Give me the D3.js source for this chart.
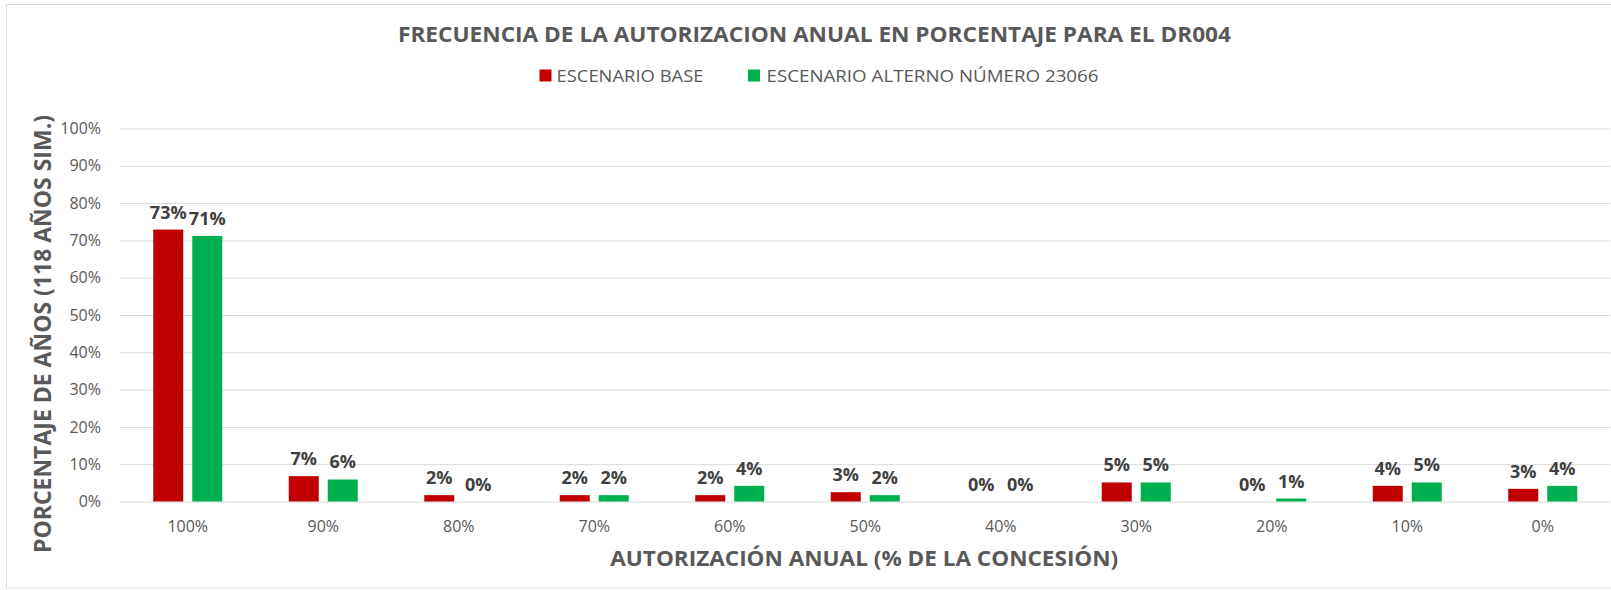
<!DOCTYPE html>
<html>
<head>
<meta charset="utf-8">
<script src="https://cdn.jsdelivr.net/npm/d3@7"></script>
<style>
  html, body { margin: 0; padding: 0; background: #ffffff; }
  svg { display: block; }
</style>
</head>
<body>
<svg id="chart" width="1611" height="590"></svg>
<script>
// ---- data ----
const categories = ["100%", "90%", "80%", "70%", "60%", "50%", "40%", "30%", "20%", "10%", "0%"];
const seriesNames = ["ESCENARIO BASE", "ESCENARIO ALTERNO NÚMERO 23066"];
const seriesColors = ["#C00000", "#00B050"];
const baseValues = [72.9, 6.8, 1.7, 1.7, 1.7, 2.5, 0, 5.1, 0, 4.2, 3.4];
const altValues  = [71.2, 5.9, 0, 1.7, 4.2, 1.7, 0, 5.1, 0.8, 5.1, 4.2];
const yTicks = [0, 10, 20, 30, 40, 50, 60, 70, 80, 90, 100];
const chartTitle = "FRECUENCIA DE LA AUTORIZACION ANUAL EN PORCENTAJE PARA EL DR004";
const xTitle = "AUTORIZACIÓN ANUAL (% DE LA CONCESIÓN)";
const yTitle = "PORCENTAJE DE AÑOS (118 AÑOS SIM.)";

const seriesValues = [baseValues, altValues];
const rows = categories.map((c, i) => ({
  cat: c,
  vals: seriesValues.map((arr, s) => ({ s, v: arr[i] }))
}));

// ---- layout ----
const svg = d3.select("#chart");
const FONT = "'Open Sans', 'DejaVu Sans', sans-serif";
const plotLeft = 120, plotRight = 1610.5, plotTop = 128.5, plotBottom = 501.5;

// outer chart border
svg.append("rect")
  .attr("x", 6.5).attr("y", 4.5)
  .attr("width", 1620).attr("height", 583.5)
  .attr("fill", "#ffffff").attr("stroke", "#d9d9d9").attr("stroke-width", 1);

const x = d3.scaleBand().domain(categories).range([plotLeft, plotRight]).paddingInner(0).paddingOuter(0);
const x1 = d3.scaleBand().domain([0, 1]).range([-34.5, 34.5]).paddingInner(0.2308).paddingOuter(0);
const y = d3.scaleLinear().domain([0, 100]).range([plotBottom, plotTop]);

// y axis with gridlines
const yAxis = svg.append("g")
  .attr("transform", `translate(${plotLeft},0)`)
  .call(d3.axisLeft(y).tickValues(yTicks).tickSize(-(plotRight - plotLeft)).tickPadding(19).tickFormat(d => d + "%"));
yAxis.select(".domain").remove();
yAxis.selectAll(".tick line").attr("stroke", "#d9d9d9").attr("stroke-width", 1);
yAxis.selectAll(".tick text")
  .attr("font-family", FONT).attr("font-size", 16).attr("fill", "#595959");

// x axis
const xAxis = svg.append("g")
  .attr("transform", `translate(0,${plotBottom})`)
  .call(d3.axisBottom(x).tickSize(0).tickPadding(19));
xAxis.select(".domain").remove();
xAxis.selectAll(".tick text")
  .attr("font-family", FONT).attr("font-size", 16).attr("fill", "#595959");

// bars
const groups = svg.append("g").selectAll("g.cat")
  .data(rows).join("g")
  .attr("class", "cat")
  .attr("transform", d => `translate(${x(d.cat) + x.bandwidth() / 2},0)`);

groups.selectAll("rect")
  .data(d => d.vals).join("rect")
  .attr("x", d => x1(d.s))
  .attr("width", x1.bandwidth())
  .attr("y", d => y(d.v))
  .attr("height", d => plotBottom - y(d.v))
  .attr("fill", d => seriesColors[d.s]);

groups.selectAll("text")
  .data(d => d.vals).join("text")
  .attr("x", d => x1(d.s) + x1.bandwidth() / 2)
  .attr("y", d => y(d.v) - 11)
  .attr("text-anchor", "middle")
  .attr("font-family", FONT).attr("font-size", 18).attr("font-weight", "bold")
  .attr("fill", "#404040")
  .text(d => Math.round(d.v) + "%");

// title
svg.append("text")
  .attr("x", 398).attr("y", 41.5)
  .attr("font-family", FONT).attr("font-size", 22).attr("font-weight", "bold")
  .attr("fill", "#595959")
  .attr("textLength", 833).attr("lengthAdjust", "spacingAndGlyphs")
  .text(chartTitle);

// legend
const legendX = [539.5, 748];
const legendTextX = [556.5, 766.5];
const legendW = [147, 332];
seriesNames.forEach((name, i) => {
  svg.append("rect")
    .attr("x", legendX[i]).attr("y", 69.5)
    .attr("width", 12).attr("height", 12)
    .attr("fill", seriesColors[i]);
  svg.append("text")
    .attr("x", legendTextX[i]).attr("y", 81.5)
    .attr("font-family", FONT).attr("font-size", 17)
    .attr("fill", "#595959")
    .attr("textLength", legendW[i]).attr("lengthAdjust", "spacingAndGlyphs")
    .text(name);
});

// x axis title
svg.append("text")
  .attr("x", (plotLeft + plotRight) / 2 - 1).attr("y", 566)
  .attr("text-anchor", "middle")
  .attr("font-family", FONT).attr("font-size", 22).attr("font-weight", "bold")
  .attr("fill", "#595959")
  .attr("textLength", 508).attr("lengthAdjust", "spacingAndGlyphs")
  .text(xTitle);

// y axis title
svg.append("text")
  .attr("transform", "translate(50.5,334) rotate(-90)")
  .attr("text-anchor", "middle")
  .attr("font-family", FONT).attr("font-size", 23).attr("font-weight", "bold")
  .attr("fill", "#595959")
  .attr("textLength", 438).attr("lengthAdjust", "spacingAndGlyphs")
  .text(yTitle);
</script>
</body>
</html>
